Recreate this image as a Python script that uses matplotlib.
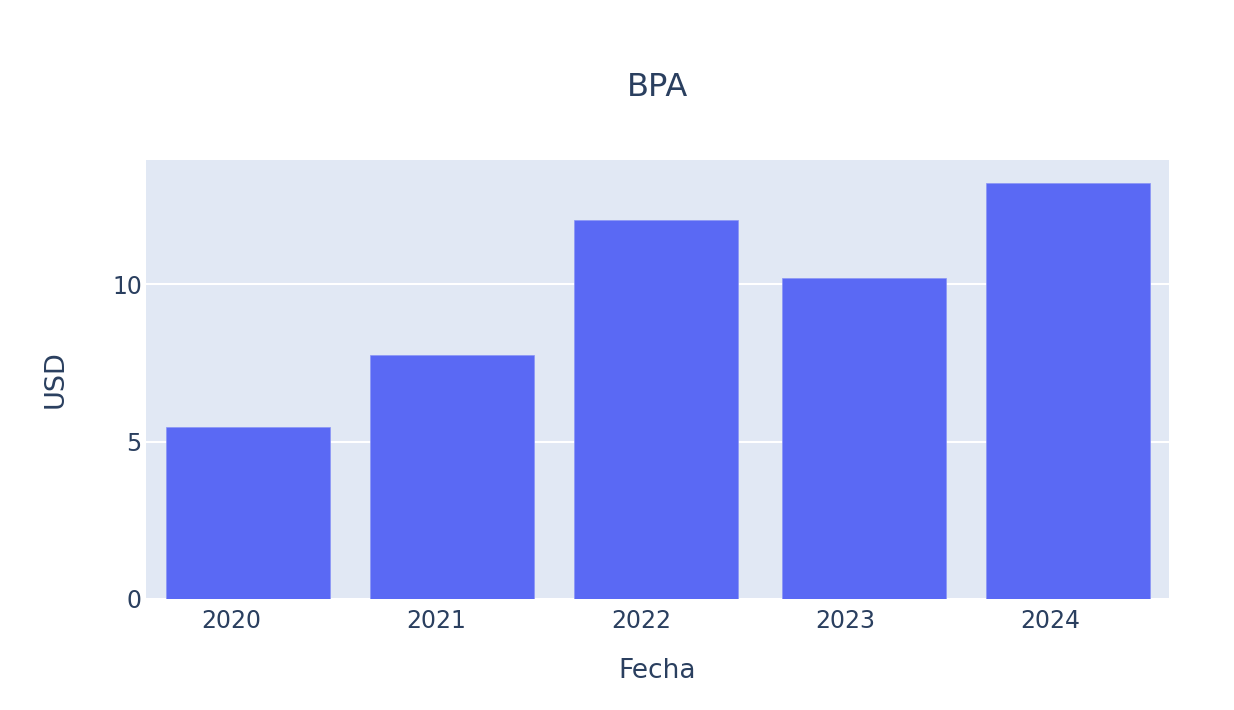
import numpy as np
import matplotlib
matplotlib.use('Agg')
import matplotlib.pyplot as plt
import matplotlib.dates as mdates

# Data (fiscal year end dates and EPS values)
fechas = np.array(['2020-01-31', '2021-01-29', '2022-01-28', '2023-02-03', '2024-02-02'], dtype='datetime64[D]')
bpa = [5.47, 7.75, 12.05, 10.18, 13.21]

titulo = 'BPA'
eje_x = 'Fecha'
eje_y = 'USD'

# Style
color_barra = '#5a69f4'
color_fondo = '#E1E8F4'
color_texto = '#2a3f5f'
plt.rcParams['font.family'] = ['DejaVu Sans']

fig = plt.figure(figsize=(12.34, 7.10), dpi=100)
ax = fig.add_axes([146 / 1234, 111 / 710, 1023 / 1234, 439 / 710])
ax.set_facecolor(color_fondo)

x = mdates.date2num(fechas.astype('O'))
ancho = 0.8 * np.min(np.diff(x))
ax.bar(x, bpa, width=ancho, color=color_barra, edgecolor='#8a94f6', linewidth=0.5, zorder=3)

# axis ranges
ax.set_xlim(mdates.datestr2num('2019-08-02'), mdates.datestr2num('2024-07-31'))
ax.set_ylim(0, 13.94)

# ticks
ax.xaxis.set_major_locator(mdates.YearLocator())
ax.xaxis.set_major_formatter(mdates.DateFormatter('%Y'))
ax.set_yticks([0, 5, 10])
ax.tick_params(axis='both', length=0, labelsize=17, labelcolor=color_texto)
ax.tick_params(axis='x', pad=7)
ax.tick_params(axis='y', pad=3)

# grid
ax.grid(axis='y', color='white', linewidth=1.5, zorder=1)
ax.grid(axis='x', visible=False)
for s in ax.spines.values():
    s.set_visible(False)

# labels
ax.set_xlabel(eje_x, fontsize=19, color=color_texto, labelpad=18)
ax.set_ylabel(eje_y, fontsize=19.5, color=color_texto, labelpad=31)
fig.text(658 / 1234, 1 - 87 / 710, titulo, fontsize=23, color=color_texto, ha='center', va='center')

fig.savefig('out.png', dpi=100)
